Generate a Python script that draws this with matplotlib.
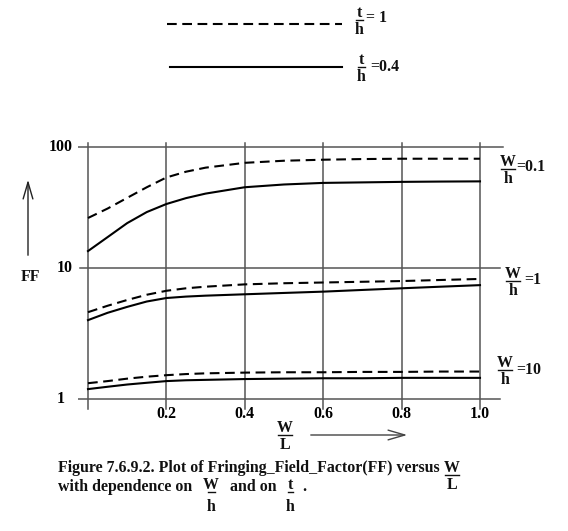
import numpy as np
import matplotlib
matplotlib.use("Agg")
import matplotlib.pyplot as plt

plt.rcParams['lines.scale_dashes'] = False

# ---- data ----
wl = [0.0, 0.05, 0.1, 0.15, 0.2, 0.25, 0.3, 0.4, 0.5, 0.6, 0.7, 0.8, 0.9, 1.0]
ff_wh01_t1 = [25.9, 31.0, 38.0, 46.5, 56.0, 62.5, 67.5, 74.0, 77.0, 78.5, 79.5, 80.0, 80.0, 80.0]
ff_wh01_t04 = [13.8, 18.0, 23.5, 29.0, 33.8, 37.8, 41.2, 46.5, 49.0, 50.5, 51.0, 51.5, 51.8, 52.0]
ff_wh1_t1 = [4.6, 5.15, 5.7, 6.25, 6.7, 7.0, 7.2, 7.5, 7.65, 7.75, 7.85, 7.95, 8.1, 8.25]
ff_wh1_t04 = [4.0, 4.55, 5.05, 5.55, 5.9, 6.05, 6.15, 6.3, 6.45, 6.6, 6.8, 7.0, 7.2, 7.4]
ff_wh10_t1 = [1.32, 1.37, 1.43, 1.48, 1.52, 1.55, 1.57, 1.59, 1.6, 1.6, 1.61, 1.61, 1.62, 1.62]
ff_wh10_t04 = [1.19, 1.24, 1.29, 1.33, 1.37, 1.39, 1.40, 1.42, 1.43, 1.44, 1.44, 1.45, 1.45, 1.45]
xticks = [0.2, 0.4, 0.6, 0.8, 1.0]
xtick_labels = ["0.2", "0.4", "0.6", "0.8", "1.0"]
yticks = [1, 10, 100]
ytick_labels = ["1", "10", "100"]
wh_labels = ["=0.1", "=1", "=10"]
th_labels = ["= 1", "=0.4"]

W, H = 568, 531
fig = plt.figure(figsize=(W / 100, H / 100), dpi=100)

FONT = ['Liberation Serif', 'DejaVu Serif']
FS = 11.4
GRID = '#555555'

# piecewise-log scale (decades 1-10: 131 px, 10-100: 121 px)
def fwd(y):
    l = np.log10(np.clip(y, 1e-9, None))
    return np.where(l < 1, l * 131.0, 131.0 + (l - 1) * 121.0)

def inv(p):
    p = np.asarray(p, dtype=float)
    return 10 ** np.where(p < 131, p / 131.0, 1 + (p - 131) / 121.0)

# axes box in pixels
L_, R_, T_, B_ = 78, 506, 140, 412
ax = fig.add_axes([L_ / W, 1 - B_ / H, (R_ - L_) / W, (B_ - T_) / H])
ax.set_yscale('function', functions=(fwd, inv))
xpx0, xpx1 = 88, 480
fx = lambda px: (px - xpx0) / (xpx1 - xpx0)
ax.set_xlim(fx(L_), fx(R_))
ax.set_ylim(float(inv(399 - B_)), float(inv(399 - T_)))
ax.axis('off')

# grid
ytop = float(inv(399 - 143))
ybot = float(inv(399 - 409))
for xv in [0.0] + xticks:
    ax.plot([xv, xv], [ytop, ybot], color=GRID, lw=1.1)
ax.plot([fx(78), fx(503)], [100, 100], color=GRID, lw=1.1)
ax.plot([fx(80), fx(500)], [10, 10], color=GRID, lw=1.1)
ax.plot([fx(78), fx(500)], [1, 1], color=GRID, lw=1.1)

# curves
dash = (7, 4)
for d in [ff_wh01_t1, ff_wh1_t1, ff_wh10_t1]:
    ax.plot(wl, d, color='black', lw=1.5, dashes=dash)
for s in [ff_wh01_t04, ff_wh1_t04, ff_wh10_t04]:
    ax.plot(wl, s, color='black', lw=1.5)

# tick labels
for xv, lab in zip(xticks, xtick_labels):
    ax.text(xv, float(inv(399 - 414)), lab, ha='center', va='center',
            fontsize=FS, fontweight='bold', family=FONT, clip_on=False)
for yv, lab in zip(yticks, ytick_labels):
    if lab == "1":
        ax.text(fx(61), yv, lab, ha='center', va='center', fontsize=FS,
                fontweight='bold', family=FONT, clip_on=False)
    else:
        ax.text(fx(73), yv, lab, ha='right', va='center', fontsize=FS,
                fontweight='bold', family=FONT, clip_on=False)

# overlay axes in pixel coordinates
ov = fig.add_axes([0, 0, 1, 1])
ov.set_xlim(0, W)
ov.set_ylim(H, 0)
ov.axis('off')

def txt(x, y, s, ha='left', fs=FS):
    ov.text(x, y, s, ha=ha, va='center', fontsize=fs, fontweight='bold',
            family=FONT, color='#111111')

def frac(xc, y_num, num, den, barw=14, gap=17):
    txt(xc, y_num, num, ha='center')
    ov.plot([xc - barw / 2, xc + barw / 2], [y_num + 7, y_num + 7],
            color='#111111', lw=1.0)
    txt(xc, y_num + gap, den, ha='center')

# legend
ov.plot([167, 342], [24, 24], color='black', lw=1.5, dashes=dash)
frac(359, 13, "t", "h", barw=7)
txt(366, 18, th_labels[0])
ov.plot([170, 342], [67, 67], color='black', lw=1.5)
frac(361, 60, "t", "h", barw=7)
txt(370, 67, th_labels[1])

# right-side labels
frac(508, 162, "W", "h")
txt(516, 167, wh_labels[0])
frac(513, 274, "W", "h")
txt(524, 280, wh_labels[1])
frac(505, 363, "W", "h")
txt(516, 370, wh_labels[2])

# FF label and arrow
txt(30, 277, "FF", ha='center')
ov.annotate("", xy=(28, 177), xytext=(28, 258),
            arrowprops=dict(arrowstyle='->,head_length=1.2,head_width=0.35',
                            color='#222222', lw=1.0))

# W/L axis label and arrow
frac(285, 428, "W", "L")
ov.annotate("", xy=(410, 435), xytext=(308, 435),
            arrowprops=dict(arrowstyle='->,head_length=1.2,head_width=0.35',
                            color='#444444', lw=1.0))

# caption
txt(58, 468, "Figure 7.6.9.2. Plot of Fringing_Field_Factor(FF) versus")
frac(452, 468, "W", "L")
txt(58, 487, "with dependence on")
frac(211, 485, "W", "h", barw=7, gap=22)
txt(230, 487, "and on")
frac(290, 485, "t", "h", barw=5, gap=22)
txt(302, 487, ".")

fig.savefig("out.png", dpi=100)
